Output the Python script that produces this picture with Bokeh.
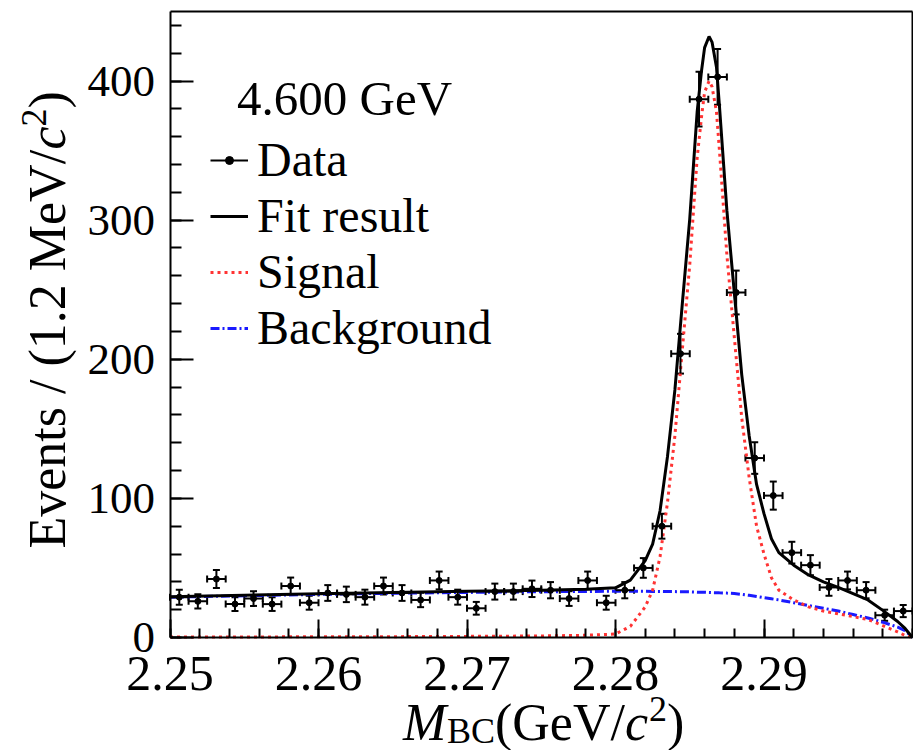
import numpy as np
from bokeh.plotting import figure
from bokeh.models import (ColumnDataSource, Range1d, FixedTicker, NumeralTickFormatter,
                          LinearAxis, Whisker, TeeHead, Legend, LegendItem, Label)
from bokeh.embed import file_html
from bokeh.resources import INLINE

# histogram: 40 bins between 2.25 and 2.30 GeV
x_lo = 2.25
bin_w = 0.00125
counts = [29, 26, 42, 24, 28, 24, 37, 25, 32, 31,
          29, 37, 32, 27, 41, 29, 21, 33, 33, 35,
          34, 28, 41, 25, 34, 50, 80, 204, 387, 403,
          248, 129, 102, 61, 52, 36, 41, 34, 16, 19]

# fit curves
curve_x = [2.2500, 2.2550, 2.2600, 2.2650, 2.2700, 2.2750, 2.2780, 2.2800, 2.2810, 2.2820,
           2.2825, 2.2830, 2.2835, 2.2840, 2.2845, 2.2850, 2.2855, 2.2858, 2.2860, 2.2863,
           2.2865, 2.2868, 2.2870, 2.2875, 2.2880, 2.2885, 2.2890, 2.2895, 2.2900, 2.2905,
           2.2910, 2.2920, 2.2930, 2.2940, 2.2950, 2.2960, 2.2970, 2.2980, 2.2990, 2.2995,
           2.3000]
signal = [0.3, 0.4, 0.5, 0.6, 0.8, 1.1, 1.6, 2.5, 8, 22,
          34, 58, 97, 145, 207, 268, 345, 375, 392, 400,
          396, 378, 350, 275, 216, 158, 115, 80, 60, 43,
          34, 27, 22, 19, 17, 15, 13, 8.5, 4, 1.5,
          0]
background = [29.0, 30.0, 31.0, 31.8, 32.4, 32.9, 33.1, 33.2, 33.2, 33.2,
              33.1, 33.1, 33.0, 33.0, 32.9, 32.8, 32.6, 32.6, 32.5, 32.4,
              32.3, 32.2, 32.1, 31.9, 31.6, 31.0, 30.3, 29.5, 28.6, 27.8,
              27.0, 25.0, 23.0, 21.0, 19.0, 16.5, 14.0, 11.0, 7.5, 5.0,
              0.0]
total = [29.3, 30.4, 31.5, 32.4, 33.2, 34.0, 34.7, 35.7, 41.2, 55.2,
         67.1, 91.1, 130, 178, 240, 301, 378, 408, 424, 432,
         428, 410, 382, 307, 248, 189, 145, 110, 89, 71,
         61, 52, 45, 40, 36, 31.5, 27, 19.5, 11.5, 6.5,
         0]

x_major = [2.25, 2.26, 2.27, 2.28, 2.29]
y_major = [0, 100, 200, 300, 400]

SERIF = "Liberation Serif"
W, H = 913, 750
# where the ROOT frame sits on the canvas (pixels)
FL, FR, FB, FT = 169.5, 912.0, 637.0, 11.0
XMIN, XMAX, YMIN, YMAX = 2.25, 2.30, 0.0, 450.0

# the frame covers the whole canvas so that titles drawn as labels are not clipped;
# the visible "frame" is made of axes pinned with fixed_location
sx = (FR - FL) / (XMAX - XMIN)
sy = (FB - FT) / (YMAX - YMIN)
x_range = Range1d(XMIN - FL / sx, XMIN + (W - FL) / sx)
y_range = Range1d(YMIN - (H - FB) / sy, YMIN + FB / sy)

centers = x_lo + bin_w * (np.arange(len(counts)) + 0.5)
y = np.array(counts, dtype=float)
err = np.sqrt(y)
src = ColumnDataSource(dict(x=centers, y=y, lower=y - err, upper=y + err,
                            left=centers - bin_w / 2, right=centers + bin_w / 2))

p = figure(width=W, height=H, x_range=x_range, y_range=y_range,
           x_axis_location=None, y_axis_location=None,
           output_backend="svg", toolbar_location=None, tools="", min_border=0)
p.grid.visible = False
p.outline_line_color = None
p.background_fill_color = "white"
p.border_fill_color = "white"

# curves
bkg_r = p.line(curve_x, background, color="#1a1aff", line_width=3, line_dash="9 3 2 3")
sig_r = p.line(curve_x, signal, color="#ff3333", line_width=3, line_dash="3 4")
tot_r = p.line(curve_x, total, color="black", line_width=3)

# data points with error bars
hbar_r = p.segment(x0="left", y0="y", x1="right", y1="y", source=src, color="black", line_width=2)
p.segment(x0="x", y0="lower", x1="x", y1="upper", source=src, color="black", line_width=2)
p.add_layout(Whisker(source=src, base="x", lower="lower", upper="upper", dimension="height",
                     line_alpha=0,
                     upper_head=TeeHead(size=7, line_width=2),
                     lower_head=TeeHead(size=7, line_width=2)))
p.add_layout(Whisker(source=src, base="y", lower="left", upper="right", dimension="width",
                     line_alpha=0,
                     upper_head=TeeHead(size=7, line_width=2),
                     lower_head=TeeHead(size=7, line_width=2)))
dot_r = p.scatter("x", "y", source=src, size=6, color="black")


def frame_axis(fixed, bounds, ticker, major_in, minor_in, label_size, standoff):
    ax = LinearAxis(fixed_location=fixed, bounds=bounds, ticker=ticker,
                    axis_line_width=2, major_tick_line_width=2, minor_tick_line_width=2,
                    major_tick_in=major_in, major_tick_out=0,
                    minor_tick_in=minor_in, minor_tick_out=0,
                    major_label_text_font=SERIF, major_label_text_color="black",
                    major_label_text_font_size=label_size, major_label_standoff=standoff)
    return ax


xax = frame_axis(YMIN, (XMIN, XMAX),
                 FixedTicker(ticks=x_major, minor_ticks=[2.25 + 0.002 * i for i in range(26)]),
                 18, 9, "50px", 19)
xax.formatter = NumeralTickFormatter(format="0.00")
p.add_layout(xax, "below")

yax = frame_axis(XMIN, (YMIN, YMAX),
                 FixedTicker(ticks=y_major, minor_ticks=list(range(0, 460, 20))),
                 23, 11, "45px", 15)
p.add_layout(yax, "left")

# top and right sides of the frame
p.add_layout(frame_axis(YMAX, (XMIN, XMAX), FixedTicker(ticks=[], minor_ticks=[]),
                        0, 0, "1px", 0), "above")
p.add_layout(frame_axis(XMAX, (YMIN, YMAX), FixedTicker(ticks=[], minor_ticks=[]),
                        0, 0, "1px", 0), "right")

# legend
legend = Legend(items=[LegendItem(label="Data", renderers=[hbar_r, dot_r]),
                       LegendItem(label="Fit result", renderers=[tot_r]),
                       LegendItem(label="Signal", renderers=[sig_r]),
                       LegendItem(label="Background", renderers=[bkg_r])],
                location=(210, 395), padding=0, margin=0, spacing=1,
                glyph_width=38, glyph_height=20, label_standoff=9,
                label_text_font=SERIF, label_text_font_size="48px",
                label_text_color="black",
                border_line_color=None, background_fill_alpha=0)
p.add_layout(legend)


def put(text, dx, dy, size, italic=False, angle=0.0):
    # text placed in pixels relative to the frame's lower-left corner
    p.add_layout(Label(x=XMIN, y=YMIN, x_offset=dx, y_offset=dy, text=text, angle=angle,
                       text_font=SERIF, text_font_size=f"{size}px",
                       text_font_style="italic" if italic else "normal",
                       text_color="black", text_align="left", text_baseline="alphabetic"))


put("4.600 GeV", 67, 539, 49)

# x axis title: M_BC(GeV/c^2)
put("M", 233, -85, 52, italic=True)
put("BC", 277, -93, 36)
put("(GeV/", 325, -85, 52)
put("c", 455, -85, 52, italic=True)
put("2", 479, -71, 36)
put(")", 497, -85, 52)

# y axis title, rotated
rot = np.pi / 2
put("Events / (1.2 MeV/", -123, 89, 52, angle=rot)
put("c", -123, 488, 52, italic=True, angle=rot)
put("2", -136, 511, 36, angle=rot)
put(")", -123, 529, 52, angle=rot)

open("out.html", "w").write(file_html(p, INLINE))
